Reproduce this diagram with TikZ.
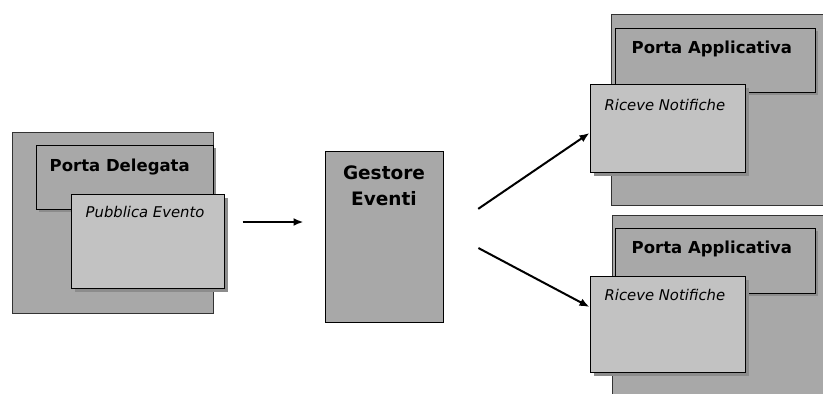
\documentclass[tikz,border=0pt]{standalone}
\usepackage{fontspec}
\setmainfont{DejaVu Sans}
\usepackage{xcolor}
\usetikzlibrary{arrows.meta,positioning,shadows}
\definecolor{boxgray}{RGB}{168,168,168}
\definecolor{cardgray}{RGB}{194,194,194}
\definecolor{shadegray}{RGB}{140,140,140}

\begin{document}
\begin{tikzpicture}[x=1pt,y=-1pt,>=Latex,
  outerbox/.style={draw=black!80,line width=0.8pt,fill=boxgray,inner sep=0pt},
  portbox/.style={draw=black,line width=1pt,fill=boxgray,inner sep=0pt,
    drop shadow={shadow xshift=3pt,shadow yshift=-3pt,fill=shadegray,opacity=1}},
  cardbox/.style={draw=black,line width=1pt,fill=cardgray,inner sep=0pt,
    drop shadow={shadow xshift=4pt,shadow yshift=-4pt,fill=shadegray,opacity=1}},
  title/.style={inner sep=0pt,anchor=base west,font=\bfseries\fontsize{16.5}{20}\selectfont},
  cardtext/.style={inner sep=0pt,anchor=base west,font=\itshape\fontsize{14.8}{18}\selectfont},
  flow/.style={->,line width=2pt,>={Latex[length=10pt,width=8pt]}}]
\useasboundingbox (0,0) rectangle (823,394);
\clip (0,0) rectangle (823,394);
% sender side
\node[outerbox,minimum width=201pt,minimum height=181pt] (pdout) at (112.5,222.5) {};
\node[portbox,minimum width=177pt,minimum height=64pt] (pd) at (124.5,177) {};
\node[title] (pdt) at ([xshift=14pt,yshift=-27pt]pd.north west) {Porta Delegata};
\node[cardbox,minimum width=153pt,minimum height=94pt] (pe) at (147.5,241) {};
\node[cardtext] (pet) at ([xshift=15pt,yshift=-23.5pt]pe.north west) {Pubblica Evento};
% event manager
\node[outerbox,draw=black,line width=1pt,minimum width=118pt,minimum height=171pt] (ge) at (384,236.5) {};
\node[inner sep=0pt,anchor=north,align=center,font=\bfseries\fontsize{18.5}{26}\selectfont]
  (get) at ([yshift=-15pt]ge.north) {Gestore\\Eventi};
% receivers
\node[outerbox,minimum width=229pt,minimum height=191pt] (paout1) at (725.5,109.5) {};
\node[portbox,minimum width=200pt,minimum height=64pt] (pa1) at (715,60) {};
\node[title] (pa1t) at ([xshift=17pt,yshift=-26pt]pa1.north west) {Porta Applicativa};
\node[cardbox,minimum width=155pt,minimum height=88pt] (rn1) at (667.5,128) {};
\node[cardtext] (rn1t) at ([xshift=15pt,yshift=-26.5pt]rn1.north west) {Riceve Notifiche};
\node[outerbox,minimum width=229pt,minimum height=205pt] (paout2) at (726.5,317.5) {};
\node[portbox,minimum width=200pt,minimum height=65pt] (pa2) at (715,260.5) {};
\node[title] (pa2t) at ([xshift=17pt,yshift=-26pt]pa2.north west) {Porta Applicativa};
\node[cardbox,minimum width=155pt,minimum height=96pt] (rn2) at (667.5,324) {};
\node[cardtext] (rn2t) at ([xshift=15pt,yshift=-24.5pt]rn2.north west) {Riceve Notifiche};
% arrows
\draw[flow,shorten <=18pt,shorten >=21pt] ([yshift=19pt]pe.east) -- ([yshift=14.5pt]ge.west);
\draw[flow,shorten <=42pt] ([yshift=4pt]ge.east) -- ([yshift=-5pt]rn1.west);
\draw[flow,shorten <=39.5pt] ([yshift=7pt]ge.east) -- ([yshift=17pt]rn2.west);
\end{tikzpicture}
\end{document}
